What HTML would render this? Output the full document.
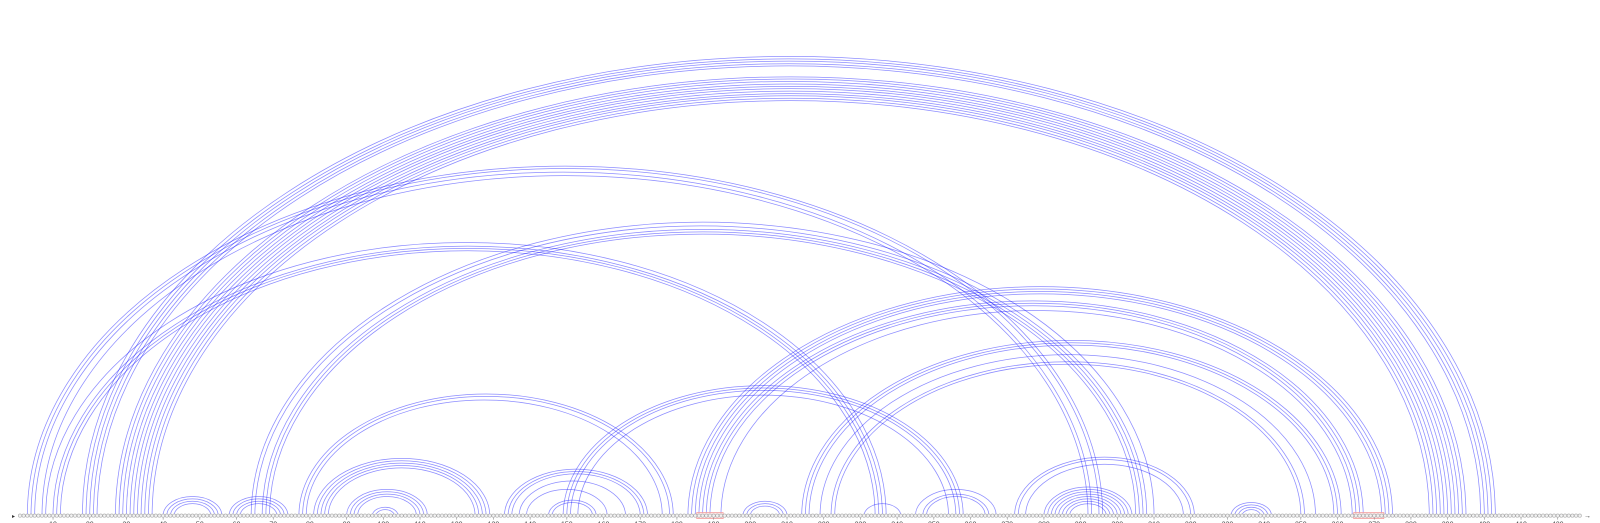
<!DOCTYPE html>
<html><head><meta charset="utf-8"><style>
html,body{margin:0;padding:0;background:#fff;}
svg{display:block;}
</style></head><body>
<svg id="chart" width="1600" height="523" viewBox="0 0 1600 523" xmlns="http://www.w3.org/2000/svg">
<g id="arcs"></g>
<g id="highlights"></g>
<g id="nts"></g>
<g id="ticks"></g>
<text x="12" y="518" font-family="Liberation Sans, sans-serif" font-size="6" fill="#333">▸</text>
<text x="1584" y="518" font-family="Liberation Sans, sans-serif" font-size="7" fill="#333">→</text>
</svg>
<script>
const seqLength = 426;
const tickPositions = [10,20,30,40,50,60,70,80,90,100,110,120,130,140,150,160,170,180,190,200,210,220,230,240,250,260,270,280,290,300,310,320,330,340,350,360,370,380,390,400,410,420];
const pairI = [3,4,5,7, 8,10,11,12, 18,19,20,21,22, 27,28,29,30,31,32,33,34,35,36,37,
  40,41,42,43, 58,59,60,61, 64,65,67,68,69, 77,78,79, 133,134,135,137,139, 145,146,
  149,150,151,153, 81,82,83,84,85, 90,91,92,93, 97,98,
  183,184,185,186,187,188,189,192, 214,215,216,219,222,223,
  198,199,200, 231, 245,247,248, 272,273,275, 280,281,282,283,284,285,286,287, 331,332,333,334];
const pairJ = [296,295,293,292, 237,236,235,234, 403,402,401,400,399, 395,394,393,392,391,390,389,388,387,386,385,
  56,55,54,53, 74,73,72,71, 310,308,307,306,305, 179,178,176, 172,171,170,166,161, 158,157,
  258,257,256,254, 129,128,127,126,125, 112,111,110,109, 104,103,
  375,374,373,372,367,366,365,364, 361,360,359,354,351,350,
  210,209,208, 241, 267,265,264, 321,320,318, 304,303,302,301,300,299,298,297, 342,341,340,339];
const highlightStart = [186, 365];
const highlightEnd = [192, 372];

const NS = "http://www.w3.org/2000/svg";
const baseY = 515.6;
const step = 3.67;
function xOf(n){ return 20 + (n-1)*step; }
const aspect = 0.65;

const arcs = document.getElementById('arcs');
for (let k=0;k<pairI.length;k++){
  const x1 = xOf(pairI[k]), x2 = xOf(pairJ[k]);
  const rx = (x2-x1)/2, ry = rx*aspect;
  const p = document.createElementNS(NS,'path');
  p.setAttribute('d', `M${x1},${baseY} A${rx},${ry} 0 0 1 ${x2},${baseY}`);
  p.setAttribute('fill','none');
  p.setAttribute('stroke','#0000ff');
  p.setAttribute('stroke-opacity','0.45');
  p.setAttribute('stroke-width','0.75');
  
  
  arcs.appendChild(p);
}

const hl = document.getElementById('highlights');
for (let k=0;k<highlightStart.length;k++){
  const r = document.createElementNS(NS,'rect');
  const xa = xOf(highlightStart[k]) - 2.2, xb = xOf(highlightEnd[k]) + 2.2;
  r.setAttribute('x', xa); r.setAttribute('y', baseY-3);
  r.setAttribute('width', xb-xa); r.setAttribute('height', 6);
  r.setAttribute('fill','#ffe4e4'); r.setAttribute('stroke','#f4a0a0'); r.setAttribute('stroke-width','0.8');
  
  
  hl.appendChild(r);
}

const nts = document.getElementById('nts');
for (let n=1;n<=seqLength;n++){
  const c = document.createElementNS(NS,'circle');
  c.setAttribute('cx', xOf(n)); c.setAttribute('cy', baseY); c.setAttribute('r', 1.65);
  c.setAttribute('fill','#f2f2f2'); c.setAttribute('stroke','#a8a8a8'); c.setAttribute('stroke-width','0.6');
  
  
  nts.appendChild(c);
}

const ticks = document.getElementById('ticks');
for (const t of tickPositions){
  const l = document.createElementNS(NS,'line');
  l.setAttribute('x1', xOf(t)); l.setAttribute('x2', xOf(t));
  l.setAttribute('y1', baseY+2); l.setAttribute('y2', baseY+4);
  l.setAttribute('stroke','#888'); l.setAttribute('stroke-width','0.6');
  
  
  ticks.appendChild(l);
  const tx = document.createElementNS(NS,'text');
  tx.setAttribute('x', xOf(t)); tx.setAttribute('y', baseY+11);
  tx.setAttribute('text-anchor','middle');
  tx.setAttribute('font-family','Liberation Sans, sans-serif');
  tx.setAttribute('font-size','7');
  tx.setAttribute('fill','#444');
  tx.textContent = t;
  
  
  ticks.appendChild(tx);
}
</script>
</body></html>
